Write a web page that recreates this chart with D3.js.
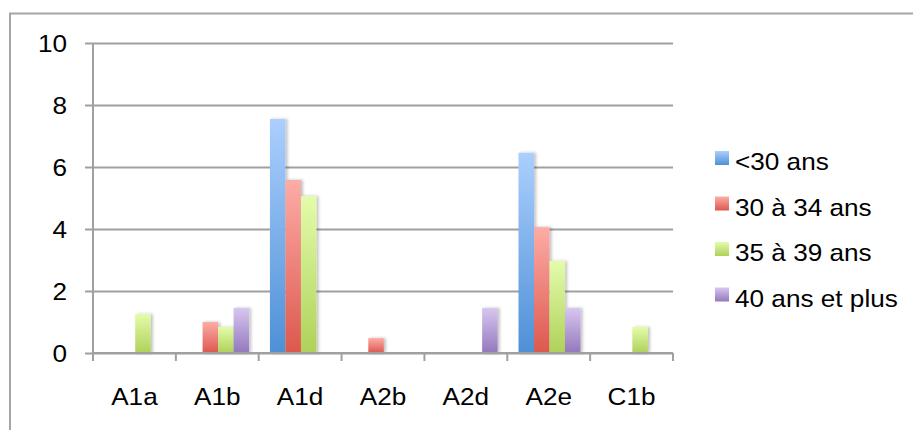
<!DOCTYPE html>
<html>
<head>
<meta charset="utf-8">
<script src="https://cdnjs.cloudflare.com/ajax/libs/d3/7.8.5/d3.min.js"></script>
<style>
body{margin:0;background:#fff;}
text{font-family:"Liberation Sans",Arial,sans-serif;fill:#000;}
</style>
</head>
<body>
<div id="chart"></div>
<script>
var categories = ["A1a","A1b","A1d","A2b","A2d","A2e","C1b"];
var seriesNames = ["<30 ans","30 à 34 ans","35 à 39 ans","40 ans et plus"];
var under30 = [0,0,7.55,0,0,6.46,0];
var from30to34 = [0,1.0,5.58,0.48,0,4.06,0];
var from35to39 = [1.26,0.84,5.06,0,0,2.97,0.84];
var over40 = [0,1.45,0,0,1.45,1.45,0];
var yTicks = [0,2,4,6,8,10];

var seriesValues = [under30,from30to34,from35to39,over40];
var topColors = ["#abcffe","#fdaca7","#e3fcab","#d7c6f0"];
var bottomColors = ["#4e90d6","#dc584d","#afd159","#9378bc"];

var W = 913, H = 430;
var plotLeft = 93, plotRight = 673, plotTop = 43, plotBottom = 353;
var stretch = 1.09;   // text in the picture is a bit wide

var svg = d3.select("#chart").append("svg")
	.attr("width",W).attr("height",H);

var defs = svg.append("defs");
for (var s=0;s<seriesNames.length;s++){
	var g = defs.append("linearGradient").attr("id","grad"+s)
		.attr("x1",0).attr("y1",0).attr("x2",0).attr("y2",1);
	g.append("stop").attr("offset","0%").attr("stop-color",topColors[s]);
	g.append("stop").attr("offset","100%").attr("stop-color",bottomColors[s]);
}
var f = defs.append("filter").attr("id","shadow")
	.attr("x","-30%").attr("y","-10%").attr("width","180%").attr("height","120%");
f.append("feDropShadow").attr("dx",2).attr("dy",0).attr("stdDeviation",1.6)
	.attr("flood-color","#000").attr("flood-opacity",0.25);

// outer frame (runs off the picture)
svg.append("rect").attr("x",10).attr("y",13.5).attr("width",950).attr("height",500)
	.attr("fill","none").attr("stroke","#a5a5a5").attr("stroke-width",2);

var y = d3.scaleLinear().domain([0,10]).range([plotBottom,plotTop]);
var x0 = d3.scaleBand().domain(categories).range([plotLeft,plotRight]);
var groupW = 62;
var x1 = d3.scaleBand().domain(d3.range(seriesNames.length)).range([0,groupW]);

// gridlines + y ticks
var yAxis = d3.axisLeft(y).tickValues(yTicks).tickSize(8).tickFormat("");
var gy = svg.append("g").attr("transform","translate("+plotLeft+",0)").call(yAxis);
gy.select(".domain").remove();
gy.selectAll(".tick line").attr("stroke","#a0a0a0").attr("stroke-width",2)
	.attr("x1",-8).attr("x2",plotRight-plotLeft);

// bars
for (var s=0;s<seriesNames.length;s++){
	var gs = svg.append("g").attr("filter","url(#shadow)");
	gs.selectAll("rect")
		.data(seriesValues[s].map(function(v,i){return {cat:categories[i],v:v};})
			.filter(function(d){return d.v>0;}))
		.enter().append("rect")
		.attr("x",function(d){return x0(d.cat)+(x0.bandwidth()-groupW)/2+0.8+x1(s);})
		.attr("y",function(d){return y(d.v);})
		.attr("width",x1.bandwidth())
		.attr("height",function(d){return y(0)-y(d.v);})
		.attr("fill","url(#grad"+s+")");
}

// y axis line and x axis
svg.append("line").attr("x1",plotLeft).attr("x2",plotLeft).attr("y1",plotTop).attr("y2",plotBottom+8)
	.attr("stroke","#a0a0a0").attr("stroke-width",2);
svg.append("line").attr("x1",plotLeft).attr("x2",plotRight).attr("y1",plotBottom).attr("y2",plotBottom)
	.attr("stroke","#a0a0a0").attr("stroke-width",2);
var bounds = categories.map(function(c){return x0(c);}).concat([plotRight]);
svg.append("g").selectAll("line").data(bounds).enter().append("line")
	.attr("x1",function(d){return d;}).attr("x2",function(d){return d;})
	.attr("y1",plotBottom).attr("y2",plotBottom+8)
	.attr("stroke","#a0a0a0").attr("stroke-width",2);

// category labels
svg.append("g").selectAll("text").data(categories).enter().append("text")
	.attr("transform",function(d){return "translate("+(x0(d)+x0.bandwidth()/2)+",405) scale("+stretch+",1)";})
	.attr("text-anchor","middle").attr("font-size","24px")
	.text(function(d){return d;});

// y labels
svg.append("g").selectAll("text").data(yTicks).enter().append("text")
	.attr("transform",function(d){return "translate(67,"+(y(d)+9)+") scale("+stretch+",1)";})
	.attr("text-anchor","end").attr("font-size","24px")
	.text(function(d){return d;});

// legend
var legend = svg.append("g").attr("transform","translate(715,151)");
seriesNames.forEach(function(n,i){
	var item = legend.append("g").attr("transform","translate(0,"+(i*45.5)+")");
	item.append("rect").attr("width",14).attr("height",14).attr("fill","url(#grad"+i+")");
	item.append("text").attr("transform","translate(20,19) scale("+stretch+",1)")
		.attr("font-size","24px").text(n);
});
</script>
</body>
</html>
